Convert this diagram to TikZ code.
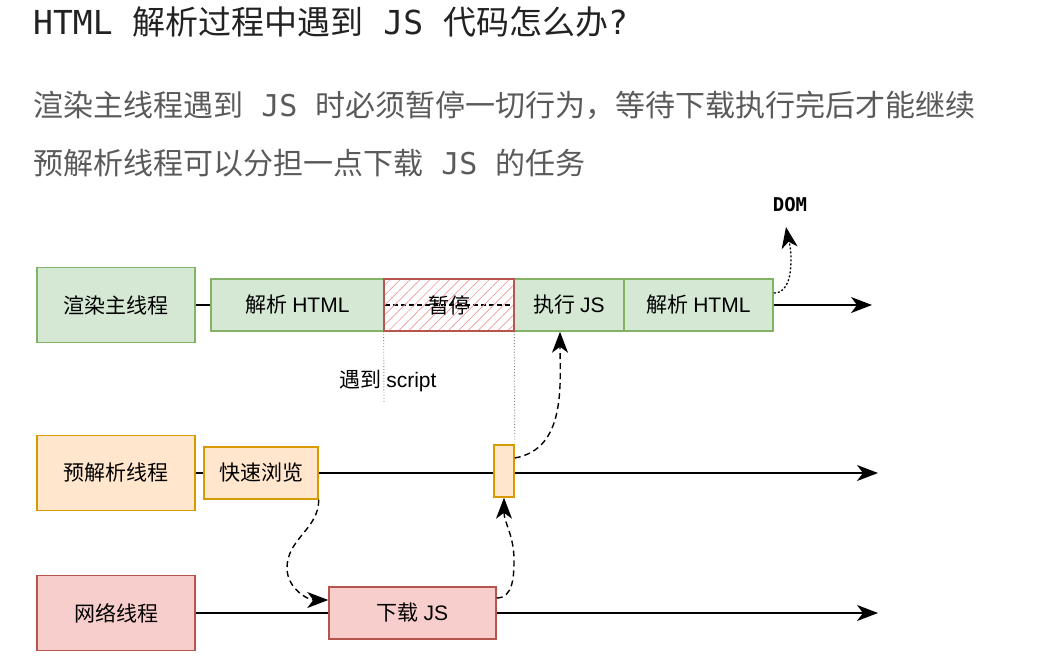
\documentclass[tikz,border=0pt]{standalone}
\usepackage{fontspec}
\setmainfont{Noto Sans CJK SC}
\newfontfamily\latin{Liberation Sans}
\newfontfamily\mono{DejaVu Sans Mono}
\usetikzlibrary{arrows.meta,patterns.meta}

\definecolor{mainfill}{HTML}{D5E8D4}
\definecolor{mainline}{HTML}{82B366}
\definecolor{prefill}{HTML}{FFE6CC}
\definecolor{preline}{HTML}{D79B00}
\definecolor{netfill}{HTML}{F8CECC}
\definecolor{netline}{HTML}{B85450}
\definecolor{hatch}{HTML}{EA9A98}
\definecolor{titlegray}{HTML}{222222}
\definecolor{bodygray}{HTML}{5A5A5A}

\begin{document}
\begin{tikzpicture}[x=1pt, y=-1pt, >={Stealth[length=21pt, width=16pt, inset=6pt]},
  every node/.style={font=\fontsize{21}{25}\selectfont},
  thread/.style={draw, line width=1.5pt, minimum width=158pt, minimum height=75pt, inner sep=0pt},
  stage/.style={draw, line width=1.5pt, minimum height=52pt, inner sep=0pt},
  mainbox/.style={fill=mainfill, draw=mainline},
  prebox/.style={fill=prefill, draw=preline},
  netbox/.style={fill=netfill, draw=netline},
  timeline/.style={line width=1.3pt},
  flow/.style={->, line width=1.4pt, dash pattern=on 6pt off 4pt},
  lead/.style={anchor=west, inner sep=0pt, text=bodygray, font=\fontsize{30}{36}\selectfont}]
	\useasboundingbox (0,0) rectangle (1055,670);
	% heading
	\node[anchor=west, inner sep=0pt, text=titlegray, font=\fontsize{33}{40}\selectfont] (title) at (33,22) {{\mono HTML }解析过程中遇到{\mono{} JS }代码怎么办{\mono ?}};
	\node[lead] (lead1) at (33,105) {渲染主线程遇到{\mono{} JS }时必须暂停一切行为，等待下载执行完后才能继续};
	\node[lead] (lead2) at (33,163) {预解析线程可以分担一点下载{\mono{} JS }的任务};
	% main thread
	\node[thread, mainbox] (main) at (116,305) {渲染主线程};
	\node[stage, mainbox, minimum width=173pt] (parse1) at (297.5,305) {解析 {\latin HTML}};
	\node[stage, mainbox, minimum width=110pt] (exec) at (569,305) {执行 {\latin JS}};
	\node[stage, mainbox, minimum width=149pt] (parse2) at (698.5,305) {解析 {\latin HTML}};
	\draw[timeline, dash pattern=on 5pt off 3pt] (parse1.east) -- (exec.west);
	\node[stage, draw=netline, line width=2pt, minimum width=130pt, pattern={Lines[angle=45, distance=7pt, line width=0.7pt]}, pattern color=hatch] (pause) at (449,305) {暂停};
	\coordinate (mainEnd) at (872,305);
	\draw[timeline] (main.east) -- (parse1.west);
	\draw[timeline, ->] (parse2.east) -- (mainEnd);
	% preload thread
	\node[thread, prebox] (pre) at (116,473) {预解析线程};
	\node[stage, prebox, minimum width=114pt] (browse) at (261,473) {快速浏览};
	\node[stage, prebox, minimum width=20pt] (marker) at (504,471) {};
	\coordinate (preEnd) at (878,473);
	\draw[timeline] (pre.east) -- (browse.west);
	\draw[timeline] (browse.east) -- (browse.east -| marker.west);
	\draw[timeline, ->] (browse.east -| marker.east) -- (preEnd);
	% network thread
	\node[thread, netbox] (net) at (116,613) {网络线程};
	\node[stage, netbox, minimum width=167pt] (dl) at (412.5,613) {下载 {\latin JS}};
	\coordinate (netEnd) at (878,613);
	\draw[timeline] (net.east) -- (dl.west);
	\draw[timeline, ->] (dl.east) -- (netEnd);
	% script marks
	\node (scriptNote) at (388,381) {遇到 {\latin script}};
	\coordinate (scriptEnd) at (384,402);
	\draw[gray, line width=0.9pt, dotted] (pause.south west) -- (scriptEnd);
	\draw[gray, line width=0.9pt, dotted] (pause.south east) -- (marker.north east);
	% hand-offs
	\draw[flow] (browse.south east) to[out=-90, in=90] (287,568) to[out=-90, in=180] ([yshift=13pt]dl.west);
	\draw[flow] ([yshift=15pt]dl.east) to[out=0, in=-90] (514,560) to[out=90, in=-90] (marker.south);
	\draw[flow] ([yshift=13pt]marker.east) to[out=10, in=-90] ([xshift=-9pt]exec.south);
	% DOM output
	\node[font=\mono\bfseries\fontsize{19}{22}\selectfont] (dom) at (790,205) {DOM};
	\coordinate (domTip) at (786,227);
	\draw[->, line width=1.3pt, dash pattern=on 2pt off 2pt] ([yshift=12pt]parse2.east) to[out=0, in=-90] (791,258) to[out=90, in=-80] (domTip);
\end{tikzpicture}
\end{document}
